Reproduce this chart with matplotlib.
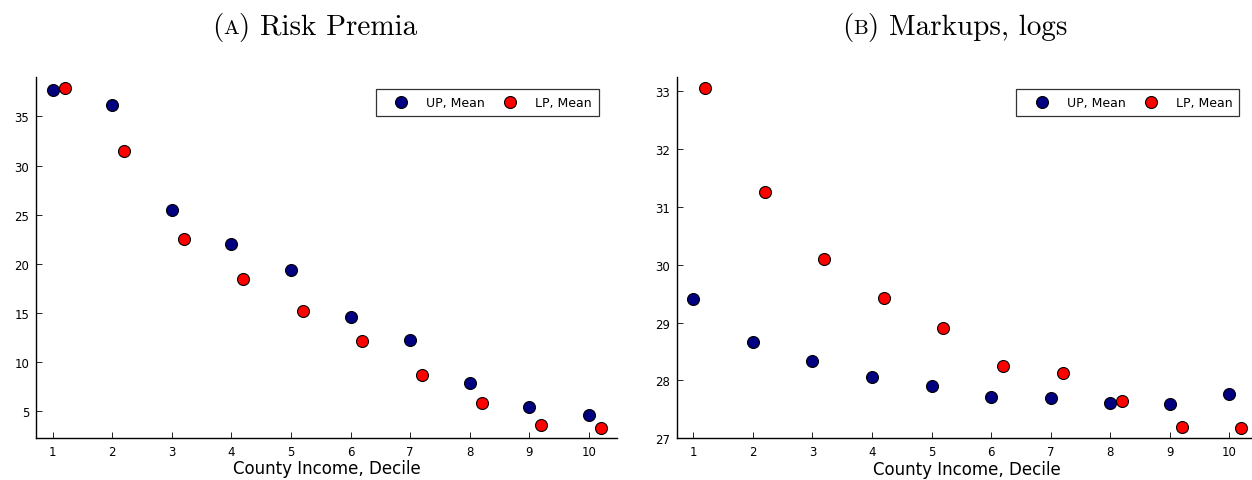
import numpy as np
import matplotlib
matplotlib.use("Agg")
import matplotlib.pyplot as plt
from matplotlib.offsetbox import TextArea, HPacker, AnnotationBbox

# ============================================================
# Data
# ============================================================
deciles = np.arange(1, 11)
lp_shift = 0.2

# (A) Risk premia
risk_up = [37.7, 36.2, 25.5, 22.0, 19.4, 14.6, 12.25, 7.9, 5.45, 4.65]
risk_lp = [37.95, 31.5, 22.5, 18.5, 15.2, 12.1, 8.65, 5.85, 3.55, 3.3]

# (B) Markups, logs
mark_up = [29.4, 28.66, 28.34, 28.06, 27.9, 27.71, 27.69, 27.61, 27.59, 27.77]
mark_lp = [33.06, 31.25, 30.09, 29.43, 28.9, 28.25, 28.12, 27.64, 27.2, 27.18]

up_label = "UP, Mean"
lp_label = "LP, Mean"
xlabel = "County Income, Decile"

W, H = 1252, 481
fig = plt.figure(figsize=(W / 100, H / 100), dpi=100)


def px_axes(x0, x1, y0, y1):
    # pixel box -> figure fraction
    return fig.add_axes([x0 / W, 1 - y1 / H, (x1 - x0) / W, (y1 - y0) / H])


def padded(lo, hi, f=0.03):
    r = hi - lo
    return lo - f * r, hi + f * r


def panel(ax, up, lp, yticks):
    xs_up = deciles
    xs_lp = deciles + lp_shift
    ax.plot(xs_up, up, 'o', ms=8.6, color='#000080', mec='black', mew=0.8,
            label=up_label, zorder=3)
    ax.plot(xs_lp, lp, 'o', ms=8.6, color='#ff0000', mec='black', mew=0.8,
            label=lp_label, zorder=3)
    ax.set_xlim(*padded(1, 10 + lp_shift))
    allv = list(up) + list(lp)
    ax.set_ylim(*padded(min(allv), max(allv)))
    ax.set_xticks(deciles)
    ax.set_yticks(yticks)
    for s in ['top', 'right']:
        ax.spines[s].set_visible(False)
    for s in ['left', 'bottom']:
        ax.spines[s].set_linewidth(1.0)
        ax.spines[s].set_color('black')
    ax.tick_params(direction='in', length=4, width=0.6, labelsize=8.5,
                   colors='black', pad=5)
    ax.set_xlabel(xlabel, fontsize=12, labelpad=1)
    leg = ax.legend(loc='upper right', bbox_to_anchor=(0.968, 0.967), ncol=2,
                    fontsize=9, frameon=True, fancybox=False, numpoints=1,
                    handletextpad=0.5, columnspacing=0.5, borderpad=0.55,
                    handlelength=3.0, borderaxespad=0)
    leg.get_frame().set_edgecolor('black')
    leg.get_frame().set_linewidth(0.9)


def title(xc, letter, rest):
    big, small = 21, 15
    parts = [TextArea("(", textprops=dict(family='cmr10', size=big)),
             TextArea(letter, textprops=dict(family='cmr10', size=small)),
             TextArea(") " + rest, textprops=dict(family='cmr10', size=big))]
    box = HPacker(children=parts, align='baseline', pad=0, sep=0)
    ab = AnnotationBbox(box, (xc / W, 1 - 27 / H), xycoords='figure fraction',
                        frameon=False, box_alignment=(0.5, 0.5))
    fig.add_artist(ab)


ax1 = px_axes(36.3, 617.2, 78.3, 439.0)
panel(ax1, risk_up, risk_lp, [5, 10, 15, 20, 25, 30, 35])

ax2 = px_axes(676.9, 1257.6, 78.3, 439.3)
panel(ax2, mark_up, mark_lp, [27, 28, 29, 30, 31, 32, 33])

title(315, "A", "Risk Premia")
title(955, "B", "Markups, logs")

fig.savefig("out.png", dpi=100)
